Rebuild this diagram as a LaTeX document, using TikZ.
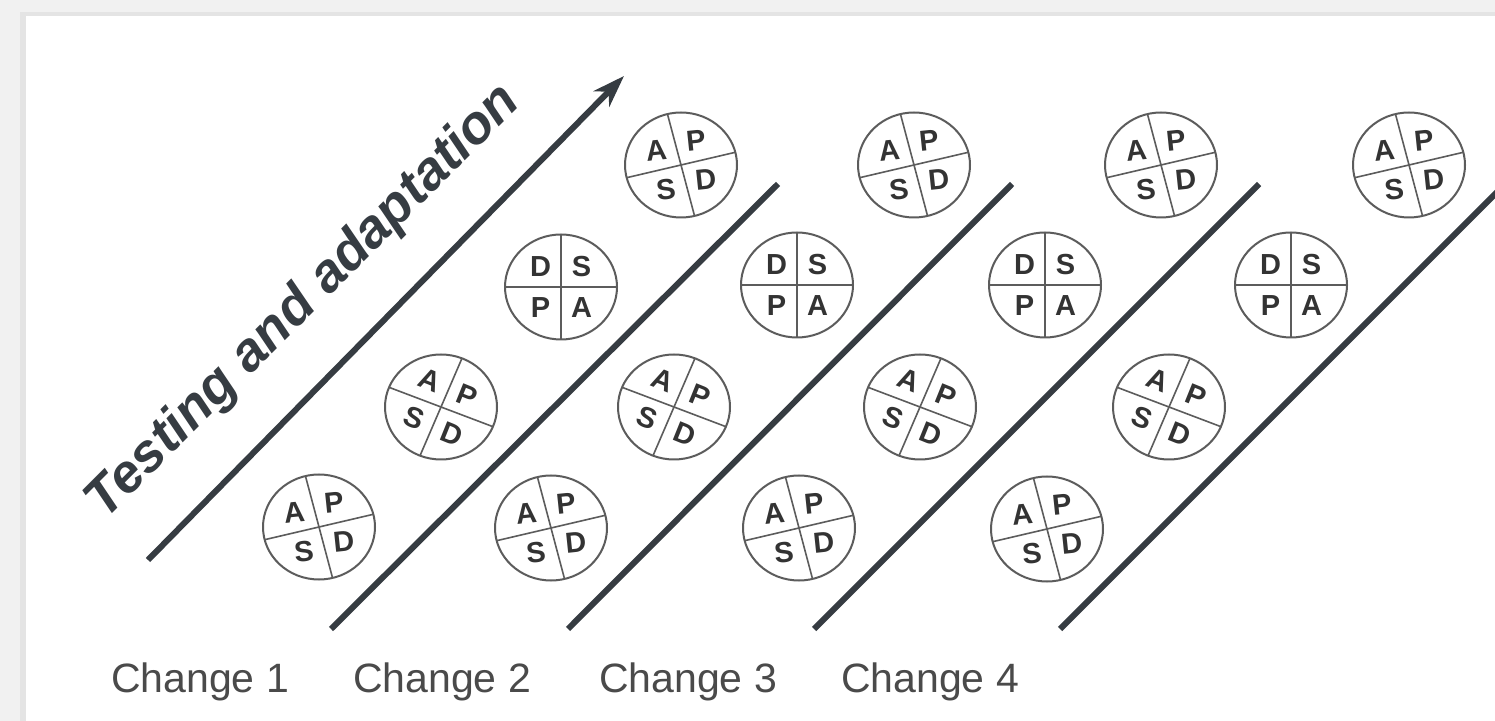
\documentclass[tikz,border=0pt]{standalone}
\usepackage{fontspec}
\setmainfont{Liberation Sans}
\usetikzlibrary{arrows.meta,shapes.geometric}
\definecolor{ink}{HTML}{363C42}
\definecolor{ring}{HTML}{5C5C5C}
\definecolor{lettercol}{HTML}{333333}
\definecolor{framecol}{HTML}{F1F1F1}
\definecolor{shadecol}{HTML}{E4E4E4}
\definecolor{labelcol}{HTML}{4A4A4A}

\tikzset{
  pdsa/.style={ellipse, draw=ring, line width=1pt, minimum width=56pt, minimum height=52.5pt, inner sep=0pt},
  crossline/.style={draw=ring, line width=0.8pt},
  letter/.style={font=\bfseries\fontsize{14.5pt}{14.5pt}\selectfont, text=lettercol, inner sep=0pt},
  sepline/.style={draw=ink, line width=3pt},
  titletext/.style={font=\bfseries\itshape\fontsize{27pt}{27pt}\selectfont, text=ink, inner sep=0pt},
  changelabel/.style={font=\fontsize{20.5pt}{20.5pt}\selectfont, text=labelcol, inner sep=0pt, anchor=base}
}

% name, x, y, angle, letter rotation, ul, ur, ll, lr
\newcommand{\pdsacirc}[9]{%
  \node[pdsa] (#1) at (#2,#3) {};
  \draw[crossline] ({#2+56*cos(#4)},{#3-52.5*sin(#4)}) -- ({#2-56*cos(#4)},{#3+52.5*sin(#4)})
                   ({#2+56*cos(#4+90)},{#3-52.5*sin(#4+90)}) -- ({#2-56*cos(#4+90)},{#3+52.5*sin(#4+90)});
  \node[letter, rotate=#5] (#1-ul) at ({#2+29*cos(#4+135)},{#3-29*sin(#4+135)}) {#6};
  \node[letter, rotate=#5] (#1-ur) at ({#2+29*cos(#4+45)},{#3-29*sin(#4+45)}) {#7};
  \node[letter, rotate=#5] (#1-ll) at ({#2+29*cos(#4+225)},{#3-29*sin(#4+225)}) {#8};
  \node[letter, rotate=#5] (#1-lr) at ({#2+29*cos(#4+315)},{#3-29*sin(#4+315)}) {#9};
}

\begin{document}
\begin{tikzpicture}[x=0.5pt,y=-0.5pt]
\useasboundingbox (0,0) rectangle (1495,721);
% frame
\fill[framecol] (0,0) rectangle (1495,721);
\fill[shadecol] (20,12) rectangle (1495,721);
\fill[white] (26,16) rectangle (1495,721);

% separator lines and arrow
\coordinate (a0) at (148,560);
\coordinate (a1) at (624,76);
\draw[sepline, -{Stealth[length=16pt, width=11pt, inset=5pt]}] (a0) -- (a1);
\coordinate (l2a) at (331,629); \coordinate (l2b) at (778,184);
\coordinate (l3a) at (568,629); \coordinate (l3b) at (1012,184);
\coordinate (l4a) at (814,629); \coordinate (l4b) at (1259,184);
\coordinate (l5a) at (1060,629); \coordinate (l5b) at (1505,184);
\draw[sepline] (l2a) -- (l2b);
\draw[sepline] (l3a) -- (l3b);
\draw[sepline] (l4a) -- (l4b);
\draw[sepline] (l5a) -- (l5b);

% title
\node[titletext, rotate=45, anchor=base] (title) at (314,312) {Testing and adaptation};

% circles: row 1 (bottom)
\pdsacirc{r1c1}{319}{527}{14}{6}{A}{P}{S}{D}
\pdsacirc{r1c2}{551}{528}{14}{6}{A}{P}{S}{D}
\pdsacirc{r1c3}{799}{528}{14}{6}{A}{P}{S}{D}
\pdsacirc{r1c4}{1047}{529}{14}{6}{A}{P}{S}{D}
% row 2 (tilted)
\pdsacirc{r2c1}{441}{407}{-22}{-22}{A}{P}{S}{D}
\pdsacirc{r2c2}{674}{407}{-22}{-22}{A}{P}{S}{D}
\pdsacirc{r2c3}{920}{407}{-22}{-22}{A}{P}{S}{D}
\pdsacirc{r2c4}{1169}{407}{-22}{-22}{A}{P}{S}{D}
% row 3 (DSPA)
\pdsacirc{r3c1}{561}{287}{0}{0}{D}{S}{P}{A}
\pdsacirc{r3c2}{797}{285}{0}{0}{D}{S}{P}{A}
\pdsacirc{r3c3}{1045}{285}{0}{0}{D}{S}{P}{A}
\pdsacirc{r3c4}{1291}{285}{0}{0}{D}{S}{P}{A}
% row 4 (top)
\pdsacirc{r4c1}{681}{165}{14}{6}{A}{P}{S}{D}
\pdsacirc{r4c2}{914}{165}{14}{6}{A}{P}{S}{D}
\pdsacirc{r4c3}{1161}{165}{14}{6}{A}{P}{S}{D}
\pdsacirc{r4c4}{1409}{165}{14}{6}{A}{P}{S}{D}

% labels
\node[changelabel] (ch1) at (200,692) {Change 1};
\node[changelabel] (ch2) at (442,692) {Change 2};
\node[changelabel] (ch3) at (688,692) {Change 3};
\node[changelabel] (ch4) at (930,692) {Change 4};
\end{tikzpicture}
\end{document}
